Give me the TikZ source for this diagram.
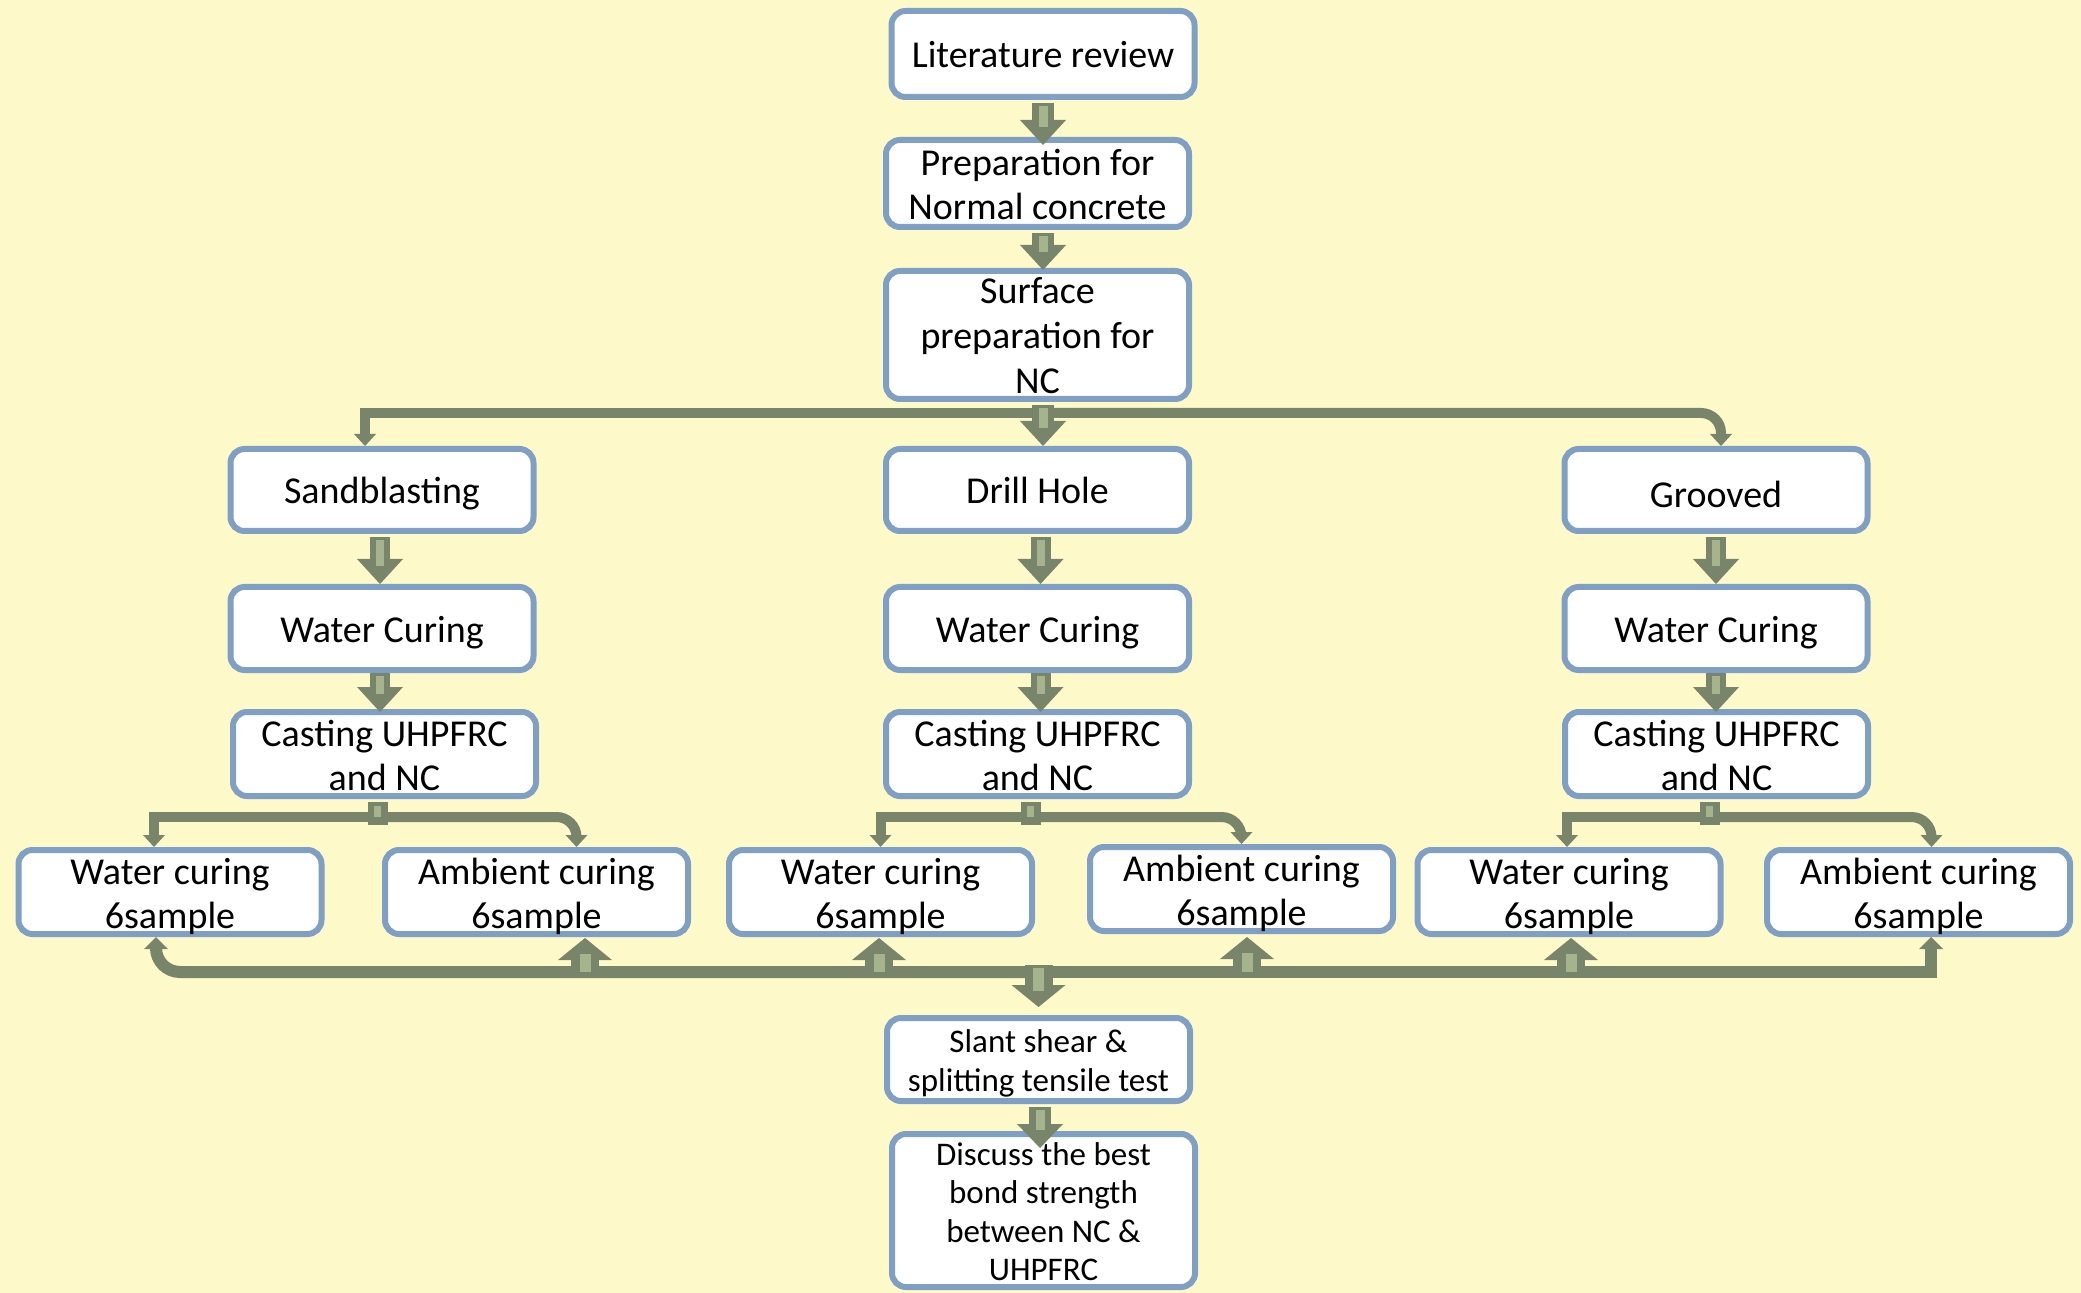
\documentclass[tikz,border=0pt]{standalone}
\usepackage{fontspec}
\setmainfont{Carlito}
\usetikzlibrary{arrows.meta,calc}
\definecolor{bgc}{HTML}{FEF9C9}
\definecolor{bdr}{HTML}{809FC5}
\definecolor{dk}{HTML}{79856A}
\definecolor{lt}{HTML}{A6B48E}
\newcommand\fatarr[7]{%
  \draw[dk,line width=#3,-{Triangle[width=#5,length=#6,line width=0pt]}] #1 -- #2;
  \draw[lt,line width=#4,shorten <=1.5pt,shorten >=#7] #1 -- #2;}
\begin{document}
\begin{tikzpicture}[x=0.5pt,y=-0.5pt,
  basebox/.style={draw=bdr,line width=3pt,fill=white,rounded corners=7pt,align=center,inner sep=0pt,
    minimum width=151.5pt},
  box/.style={basebox,font=\fontsize{19pt}{22pt}\selectfont,text height=14pt,text depth=0pt},
  two/.style={text height=36pt},
  sbox/.style={basebox,font=\fontsize{16.5pt}{19.2pt}\selectfont,text height=12.5pt,text depth=0pt},
  br/.style={dk,line width=5pt,-{Triangle[width=11pt,length=6pt,line width=0pt]}},
  cl/.style={dk,line width=6pt,-{Triangle[width=12pt,length=6pt,line width=0pt]}}]
\fill[bgc] (0,0) rectangle (2081,1293);
\useasboundingbox (0,0) rectangle (2081,1293);
% nodes
\node[box,minimum height=43pt] (lit) at (1043,54) {Literature review};
\node[box,two,minimum height=43.5pt] (prep) at (1037.5,183.5) {Preparation for\\Normal concrete};
\node[box,minimum height=64pt,font=\fontsize{19pt}{22.5pt}\selectfont,text height=59pt] (surf) at (1037.5,335) {Surface\\preparation for\\NC};
\node[box,minimum height=41pt] (sand) at (382,490) {Sandblasting};
\node[box,minimum height=41pt] (drill) at (1037.5,490) {Drill Hole};
\node[box,minimum height=41pt] (groove) at (1716,490) {\raisebox{-2pt}{Grooved}};
\node[box,minimum height=41.5pt] (wcA) at (382,628.5) {Water Curing};
\node[box,minimum height=41.5pt] (wcB) at (1037.5,628.5) {Water Curing};
\node[box,minimum height=41.5pt] (wcC) at (1716,628.5) {Water Curing};
\node[box,two,minimum height=42pt] (castA) at (384.5,754) {Casting UHPFRC\\and NC};
\node[box,two,minimum height=42pt] (castB) at (1037.5,754) {Casting UHPFRC\\and NC};
\node[box,two,minimum height=42pt] (castC) at (1716.5,754) {Casting UHPFRC\\and NC};
\node[box,two,minimum height=42pt] (wc1) at (170,892) {Water curing\\6sample};
\node[box,two,minimum height=42pt] (am1) at (536.5,892) {Ambient curing\\6sample};
\node[box,two,minimum height=42pt] (wc2) at (880.5,892) {Water curing\\6sample};
\node[box,two,minimum height=42pt] (am2) at (1241.5,889) {Ambient curing\\6sample};
\node[box,two,minimum height=42pt] (wc3) at (1569,892) {Water curing\\6sample};
\node[box,two,minimum height=42pt] (am3) at (1918.5,892) {Ambient curing\\6sample};
\node[sbox,minimum height=41.5pt,text height=31.7pt] (slant) at (1038.5,1059.5) {Slant shear \&\\splitting tensile test};
\node[sbox,minimum height=76.5pt,text height=70.1pt] (disc) at (1043.5,1210.5) {Discuss the best\\bond strength\\between NC \&\\UHPFRC};
% top chain
\fatarr{($(lit.south)+(0,3)$)}{($(lit.south|-prep.north)+(0,8)$)}{11pt}{4.5pt}{23pt}{12.5pt}{9pt}
\fatarr{($(lit.south|-prep.south)+(0,3)$)}{($(lit.south|-surf.north)+(0,2)$)}{11pt}{4.5pt}{23pt}{12.5pt}{9pt}
% first branch
\coordinate (tb) at ($(surf.south)+(0,11)$);
\draw[br] (tb) -| ($(sand.north)+(-17,0)$);
\draw[br,rounded corners=10pt] (tb) -| ($(groove.north)+(5,0)$);
\fatarr{($(lit.south|-surf.south)+(0,3)$)}{(lit.south|-drill.north)}{11pt}{4.5pt}{23pt}{12.5pt}{9pt}
% columns
\fatarr{($(sand.south)+(-2,3)$)}{($(sand.south|-wcA.north)+(-2,0)$)}{10pt}{4pt}{23pt}{12.5pt}{9pt}
\fatarr{($(wcA.south)+(-2,0)$)}{($(wcA.south|-castA.north)+(-2,3)$)}{10pt}{4pt}{23pt}{12.5pt}{9pt}
\fatarr{($(drill.south)+(3,3)$)}{($(drill.south|-wcB.north)+(3,0)$)}{10pt}{4pt}{23pt}{12.5pt}{9pt}
\fatarr{($(wcB.south)+(3,0)$)}{($(wcB.south|-castB.north)+(3,3)$)}{10pt}{4pt}{23pt}{12.5pt}{9pt}
\fatarr{($(groove.south)+(0,3)$)}{($(groove.south|-wcC.north)+(0,0)$)}{10pt}{4pt}{23pt}{12.5pt}{9pt}
\fatarr{($(wcC.south)+(0,0)$)}{($(wcC.south|-castC.north)+(0,3)$)}{10pt}{4pt}{23pt}{12.5pt}{9pt}
% casting branches
\foreach \c/\l/\lo/\r/\ro in {castA/wc1/-16/am1/40, castB/wc2/0/am2/0, castC/wc3/-2/am3/13}{
  \coordinate (bx) at ($(\c.south)+(-7,18)$);
  \draw[br] (bx) -| ($(\l.north)+(\lo,0)$);
  \draw[br,rounded corners=10pt] (bx) -| ($(\r.north)+(\ro,0)$);
  \draw[dk,line width=10pt] ($(\c.south)+(-7,3)$) -- ($(\c.south)+(-7,26)$);
  \draw[lt,line width=3.5pt] ($(\c.south)+(-7,7)$) -- ($(\c.south)+(-7,18)$);
}
% collector
\coordinate (col) at ($(slant.north)+(0,-43)$);
\draw[cl,rounded corners=12pt] (col) -| ($(wc1.south)+(-14,0)$);
\draw[cl] (col) -| ($(am3.south)+(12.5,0)$);
\fatarr{($(am1.south)+(48.5,38)$)}{($(am1.south)+(48.5,1)$)}{14pt}{5.5pt}{27pt}{11pt}{8pt}
\fatarr{($(wc2.south)+(-1.5,38)$)}{($(wc2.south)+(-1.5,1)$)}{14pt}{5.5pt}{27pt}{11pt}{8pt}
\fatarr{($(am2.south)+(5.5,41)$)}{($(am2.south)+(5.5,3)$)}{14pt}{5.5pt}{27pt}{11pt}{8pt}
\fatarr{($(wc3.south)+(2,38)$)}{($(wc3.south)+(2,1)$)}{14pt}{5.5pt}{27pt}{11pt}{8pt}
\fatarr{($(col)+(0,-7)$)}{($(slant.north)+(0,-8)$)}{14pt}{5.5pt}{27pt}{11pt}{8pt}
\fatarr{($(slant.south)+(1.5,3)$)}{($(slant.south)+(1.5,44)$)}{11pt}{4.5pt}{23pt}{12pt}{9pt}
\end{tikzpicture}
\end{document}
